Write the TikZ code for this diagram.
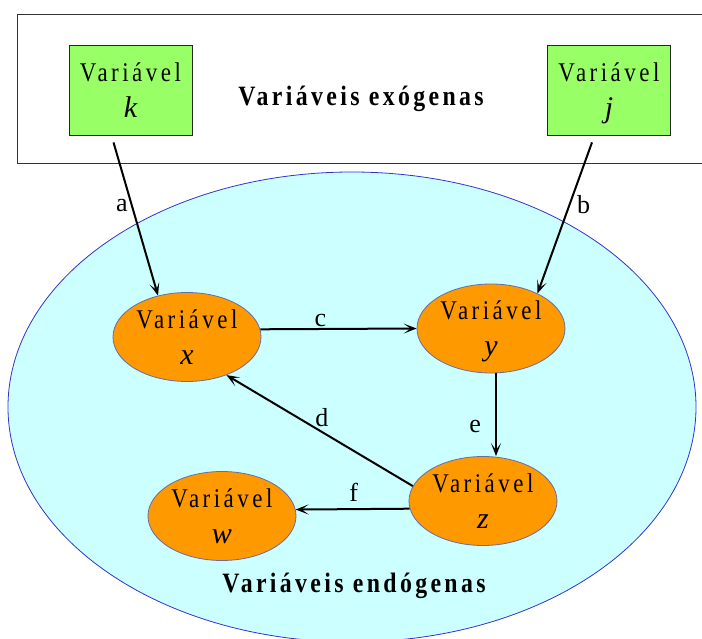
\documentclass[tikz,border=0pt]{standalone}
\usepackage{fontspec}
\setmainfont{Liberation Serif}
% condensed, letter-spaced serif for the variable names and group titles
\newfontfamily\varfont{Liberation Serif}[FakeStretch=0.85,LetterSpace=13]
\newfontfamily\groupfont{Liberation Serif}[FakeStretch=0.85,LetterSpace=12]
% italic symbol of a variable
\newcommand\varsym[1]{{\normalfont\itshape\fontsize{30}{36}\selectfont #1}}
\usetikzlibrary{shapes.geometric,arrows.meta}

\definecolor{exoGreen}{HTML}{99FF66}
\definecolor{endoOrange}{HTML}{FF9900}
\definecolor{endoCyan}{HTML}{CCFFFF}
\definecolor{endoBlue}{HTML}{3333CC}
\definecolor{varEdge}{HTML}{6A6AA8}

\begin{document}
\begin{tikzpicture}[x=1pt,y=-1pt,
  exobox/.style={draw=black!85, fill=exoGreen, line width=0.8pt,
    minimum width=123pt, minimum height=90pt, inner sep=0pt,
    align=center, text depth=0pt, font=\varfont\fontsize{27}{36}\selectfont},
  endovar/.style={ellipse, draw=varEdge, fill=endoOrange, line width=0.8pt,
    minimum width=148pt, minimum height=89pt, inner sep=0pt,
    align=center, text depth=0pt, font=\varfont\fontsize{27}{36}\selectfont},
  grouptitle/.style={anchor=base, inner sep=0pt,
    font=\groupfont\bfseries\fontsize{28}{34}\selectfont},
  conn/.style={line width=2pt, -{Stealth[length=13pt,width=10pt,inset=7pt]}},
  lbl/.style={inner sep=0pt, font=\fontsize{26}{30}\selectfont}
]
\useasboundingbox (0,0) rectangle (702,639);

% region of exogenous variables
\node[draw=black!80, fill=white, line width=1pt, minimum width=688pt,
      minimum height=149pt, inner sep=0pt] (exo) at (361,89.5) {};
% region of endogenous variables
\node[ellipse, draw=endoBlue, fill=endoCyan, line width=0.8pt,
      minimum width=688pt, minimum height=470pt, inner sep=0pt] (endo) at (352,407) {};

% exogenous variables
\node[exobox] (k) at (130.5,90) {Variável\\\varsym{k}};
\node[exobox] (j) at (609,90) {Variável\\\varsym{j}};
\node[grouptitle] (exoTitle) at (361,106) {Variáveis exógenas};

% endogenous variables
\node[endovar] (x) at (187,337) {Variável\\\varsym{x}};
\node[endovar] (y) at (491,328.5) {Variável\\\varsym{y}};
\node[endovar] (z) at (483,501) {Variável\\\varsym{z}};
\node[endovar] (w) at (222,516) {Variável\\\varsym{w}};
\node[grouptitle] (endoTitle) at (354,592) {Variáveis endógenas};

% causal paths
\draw[conn] ([xshift=-17pt,yshift=-7pt]k.south) -- node[lbl, pos=0.41, left=3pt] {a} (x.125);
\draw[conn] ([xshift=-17pt,yshift=-7pt]j.south) -- node[lbl, pos=0.41, right=6.5pt] {b} (y.37);
\draw[conn] (x.6) -- node[lbl, pos=0.385, above=1pt] {c} (y.west);
\draw[conn] (z.168) -- node[lbl, pos=0.488, above=4.5pt] {d} (x.-44);
\draw[conn] ([xshift=5pt]y.south) -- node[lbl, pos=0.64, left=14pt] {e} ([xshift=5pt]y.south |- z.north);
\draw[conn] (z.186) -- node[lbl, pos=0.49, above=7pt] {f} (w.5);
\end{tikzpicture}
\end{document}
